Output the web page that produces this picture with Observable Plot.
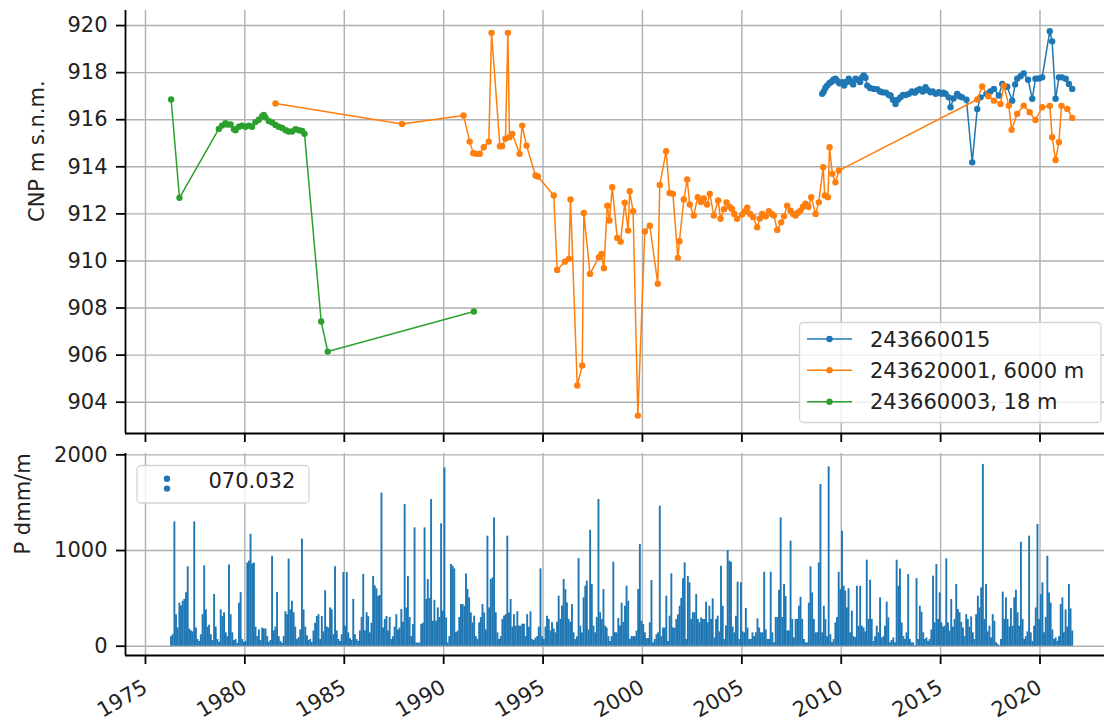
<!DOCTYPE html>
<html><head><meta charset="utf-8">
<script src="https://cdn.jsdelivr.net/npm/d3@7"></script>
<script src="https://cdn.jsdelivr.net/npm/@observablehq/plot@0.6"></script>
<style>
body{margin:0;background:#fff;font-family:"DejaVu Sans",sans-serif;}
#wrap{position:relative;width:1104px;height:721px;overflow:hidden;background:#fff;}
#wrap > svg, #wrap > figure{position:absolute;left:0;margin:0;}
</style></head><body><div id="wrap"></div>
<script>
// ---------- data ----------
const seriesNames = ["243660015", "243620001, 6000 m", "243660003, 18 m"];
const seriesColors = ["#1f77b4", "#ff7f0e", "#2ca02c"];
const precipName = "070.032";

// [decimal year, level m s.n.m.]
const s243660015 = [
[2009.04,917.1],[2009.12,917.2],[2009.2,917.35],[2009.29,917.45],[2009.4,917.55],[2009.5,917.6],[2009.6,917.7],[2009.71,917.74],[2009.8,917.65],[2009.9,917.55],
[2010.05,917.59],[2010.15,917.45],[2010.25,917.6],[2010.38,917.74],[2010.5,917.6],[2010.6,917.5],[2010.72,917.74],[2010.82,917.7],[2010.95,917.6],[2011.05,917.8],
[2011.13,917.88],[2011.22,917.78],[2011.31,917.45],[2011.45,917.35],[2011.64,917.31],[2011.8,917.3],[2011.95,917.2],[2012.06,917.17],[2012.25,917.15],[2012.4,917.05],
[2012.48,917.03],[2012.6,916.85],[2012.73,916.67],[2012.85,916.85],[2012.98,916.95],[2013.1,917.05],[2013.25,917.05],[2013.4,917.1],[2013.55,917.2],[2013.7,917.15],
[2013.82,917.24],[2013.95,917.3],[2014.1,917.2],[2014.24,917.38],[2014.35,917.25],[2014.49,917.17],[2014.6,917.2],[2014.75,917.1],[2014.91,917.17],[2015.05,917.1],
[2015.15,917.15],[2015.25,917.1],[2015.41,916.95],[2015.5,916.53],[2015.65,916.9],[2015.83,917.1],[2015.95,917.0],[2016.08,916.95],[2016.3,916.85],[2016.59,914.19],
[2016.84,916.46],[2017.01,916.95],[2017.3,917.1],[2017.5,917.2],[2017.68,917.31],[2017.93,917.03],[2018.1,917.52],[2018.35,917.4],[2018.6,916.81],[2018.75,917.5],
[2018.85,917.74],[2019.02,917.85],[2019.18,917.97],[2019.4,917.7],[2019.61,916.89],[2019.77,917.74],[2019.95,917.75],[2020.11,917.8],[2020.49,919.76],[2020.61,919.33],
[2020.78,916.89],[2020.95,917.8],[2021.1,917.8],[2021.29,917.74],[2021.45,917.52],[2021.62,917.31]
];
const s243620001 = [
[1981.54,916.69],[1987.91,915.82],[1991.0,916.18],[1991.31,915.07],[1991.49,914.58],[1991.65,914.55],[1991.82,914.55],[1992.02,914.83],[1992.27,915.07],[1992.41,919.69],
[1992.83,914.87],[1992.94,914.87],[1993.11,915.19],[1993.23,919.69],[1993.31,915.26],[1993.45,915.4],[1993.82,914.55],[1993.95,915.75],[1994.17,914.9],[1994.62,913.63],
[1994.74,913.59],[1995.54,912.78],[1995.71,909.62],[1996.1,909.97],[1996.3,910.09],[1996.38,912.61],[1996.72,904.71],[1996.97,905.56],[1997.05,912.04],[1997.36,909.45],
[1997.81,910.16],[1997.94,910.3],[1998.06,909.69],[1998.23,912.35],[1998.34,911.72],[1998.48,913.13],[1998.73,910.98],[1998.9,910.82],[1999.11,912.47],[1999.28,911.29],
[1999.36,912.96],[1999.53,912.11],[1999.77,903.43],[2000.12,911.25],[2000.37,911.5],[2000.77,909.03],[2000.87,913.23],[2001.19,914.66],[2001.36,912.89],[2001.53,912.85],
[2001.78,910.13],[2001.86,910.84],[2002.08,912.61],[2002.25,913.46],[2002.38,912.4],[2002.58,911.93],[2002.78,912.71],[2002.95,912.5],[2003.09,912.66],[2003.25,912.4],
[2003.39,912.85],[2003.59,911.93],[2003.81,912.57],[2003.93,911.79],[2004.1,912.2],[2004.23,912.49],[2004.38,912.3],[2004.51,912.21],[2004.62,912.0],[2004.76,911.79],
[2005.01,911.97],[2005.15,912.1],[2005.27,912.26],[2005.42,912.0],[2005.57,911.86],[2005.77,911.43],[2005.9,911.8],[2006.02,912.0],[2006.2,911.9],[2006.36,912.11],
[2006.5,912.0],[2006.61,911.93],[2006.78,911.32],[2006.98,911.64],[2007.12,911.9],[2007.28,912.35],[2007.45,912.14],[2007.58,912.0],[2007.7,911.93],[2007.82,912.05],
[2007.95,912.14],[2008.08,912.3],[2008.2,912.43],[2008.35,912.3],[2008.49,912.71],[2008.71,912.0],[2008.87,912.49],[2009.09,913.98],[2009.17,912.78],[2009.33,912.71],
[2009.41,914.83],[2009.55,913.7],[2009.71,913.34],[2009.88,913.84],[2016.84,916.86],[2017.09,917.41],[2017.4,917.0],[2017.68,916.81],[2018.01,916.67],[2018.18,917.45],
[2018.43,916.6],[2018.57,915.57],[2018.85,916.25],[2019.18,916.6],[2019.48,916.32],[2019.77,915.99],[2020.11,916.53],[2020.49,916.59],[2020.61,915.26],[2020.78,914.29],
[2020.95,915.04],[2021.08,916.59],[2021.37,916.46],[2021.62,916.08]
];
const s243660003 = [
[1976.29,916.86],[1976.71,912.68],[1978.69,915.61],[1978.85,915.75],[1979.02,915.85],[1979.11,915.8],[1979.28,915.8],[1979.45,915.6],[1979.53,915.55],[1979.7,915.7],
[1979.86,915.75],[1980.03,915.7],[1980.2,915.75],[1980.36,915.7],[1980.53,915.9],[1980.7,916.0],[1980.87,916.15],[1980.95,916.2],[1981.03,916.1],[1981.2,915.95],
[1981.37,915.88],[1981.54,915.78],[1981.7,915.7],[1981.88,915.65],[1982.05,915.55],[1982.2,915.5],[1982.38,915.5],[1982.55,915.6],[1982.72,915.55],[1982.88,915.52],
[1983.0,915.4],[1983.84,907.43],[1984.17,906.15],[1991.52,907.85]
];

// monthly precipitation (dmm/m), first month April 1976
const precipFirstMonth = "1976-04";
const precipValues = [
100,120,1300,330,190,450,420,470,490,560,
830,180,160,150,1300,190,70,50,120,330,
840,380,200,220,120,60,540,200,70,40,
380,310,350,140,100,850,330,140,60,70,
30,450,560,70,40,50,870,890,1170,860,
870,200,100,170,60,190,180,180,100,40,
60,940,160,200,560,100,50,30,100,360,
330,910,380,470,350,200,70,90,170,1120,
380,200,110,60,70,40,160,240,310,330,
70,310,150,580,200,190,400,380,120,830,
160,70,50,120,770,210,770,140,80,60,
490,120,70,50,160,300,750,160,350,310,
140,240,730,630,600,520,530,1600,190,280,
310,160,300,70,100,200,
330,170,190,383,250,1480,400,730,300,100,
226,1237,35,30,35,226,240,1237,488,697,
500,1533,261,480,261,400,300,1280,366,1864,
296,35,100,854,836,808,140,157,300,435,
435,418,756,592,505,348,244,314,100,70,
244,300,435,348,170,1150,400,697,714,1341,
350,140,70,100,280,314,330,1150,348,488,
200,330,210,360,210,210,230,230,100,330,
200,360,70,60,85,100,200,808,100,70,
200,314,280,160,244,180,140,250,523,280,
420,697,592,453,280,250,435,140,70,100,
916,210,140,505,627,680,170,1212,645,210,
140,300,1533,350,280,592,210,190,100,50,
100,878,140,140,290,210,450,250,418,
627,470,70,100,100,100,157,592,1063,261,
226,140,80,80,244,686,35,70,120,140,
1463,100,190,190,523,50,314,756,190,190,
280,330,418,500,704,871,70,730,662,280,
350,350,540,280,244,296,280,280,460,244,
418,280,495,87,280,314,150,836,418,70,
210,1000,888,878,200,140,314,669,70,662,
150,140,394,190,70,70,140,100,140,286,
190,140,140,773,170,70,70,773,140,35,
300,300,585,1341,300,645,520,160,160,1097,
280,87,280,280,418,512,280,70,35,35,
450,830,557,280,140,140,871,1690,140,418,
280,100,1874,120,35,70,244,300,773,592,
1202,627,575,400,600,140,
366,100,90,627,209,627,209,190,150,899,
280,690,280,50,100,209,140,505,87,100,
209,460,296,35,60,87,35,899,627,808,
244,100,70,140,749,70,35,35,5,707,
70,418,355,140,70,87,50,70,170,732,
244,854,280,557,244,200,209,913,244,157,
488,200,280,645,383,350,250,190,100,330,
280,200,307,140,70,330,523,400,610,1900,
280,645,150,209,87,330,260,35,20,5,
70,565,280,505,280,200,394,209,505,585,
350,209,1087,280,70,100,150,1150,140,50,
209,400,1272,280,540,662,140,300,940,557,
450,170,70,87,50,100,435,505,140,380,
200,645,390,160
];

const levelTicks = [904, 906, 908, 910, 912, 914, 916, 918, 920];
const precipTicks = [0, 1000, 2000];
const tickYears = [1975, 1980, 1985, 1990, 1995, 2000, 2005, 2010, 2015, 2020];

// ---------- build tables ----------
function decToDate(y) {
  const yr = Math.floor(y);
  const a = Date.UTC(yr, 0, 1), b = Date.UTC(yr + 1, 0, 1);
  return new Date(a + (y - yr) * (b - a));
}
const levelSeries = [s243660015, s243620001, s243660003].map((s, i) =>
  s.map(([t, v]) => ({date: decToDate(t), level: v, series: seriesNames[i]})));
const p0 = d3.utcParse("%Y-%m")(precipFirstMonth);
const precip = precipValues.map((v, i) => ({date: d3.utcDay.offset(d3.utcMonth.offset(p0, i), 14), value: v}));
const yearTicks = tickYears.map(y => new Date(Date.UTC(y, 0, 1)));

const xDomain = [new Date(Date.UTC(1973, 11, 30)), new Date(Date.UTC(2023, 2, 31))];
const yDomTop = [902.67, 920.64];
const yDomBot = [-97, 2014];

const baseStyle = {fontFamily: "DejaVu Sans, sans-serif", fontSize: "21px", color: "#222", background: "transparent", overflow: "visible"};
const gridStyle = {stroke: "#b0b0b0", strokeOpacity: 1, strokeWidth: 1.4};

const seriesMarks = [];
levelSeries.forEach((d, i) => {
  seriesMarks.push(Plot.line(d, {x: "date", y: "level", stroke: seriesColors[i], strokeWidth: 1.5}));
  seriesMarks.push(Plot.dot(d, {x: "date", y: "level", fill: seriesColors[i], r: 3.2, stroke: "none"}));
});

const topPlot = Plot.plot({
  width: 1104, height: 443,
  marginLeft: 125, marginRight: 0, marginTop: 10, marginBottom: 10,
  style: baseStyle,
  x: {type: "utc", domain: xDomain},
  y: {domain: yDomTop},
  marks: [
    Plot.gridX({ticks: yearTicks, ...gridStyle}),
    Plot.gridY({ticks: levelTicks, ...gridStyle}),
    ...seriesMarks,
    Plot.ruleX([xDomain[0]], {stroke: "black", strokeWidth: 1.8}),
    Plot.ruleY([yDomTop[0]], {stroke: "black", strokeWidth: 1.8}),
    Plot.axisY({ticks: levelTicks, tickSize: 9, tickPadding: 9, label: null, stroke: "black", strokeWidth: 1.8}),
    Plot.axisX({ticks: yearTicks, tickSize: 9, tickFormat: () => null, label: null, stroke: "black", strokeWidth: 1.8}),
    Plot.text(["CNP m s.n.m."], {frameAnchor: "left", dx: -88, rotate: -90, fontSize: 21, fill: "#222"})
  ]
});

const botPlot = Plot.plot({
  width: 1104, height: 278,
  marginLeft: 125, marginRight: 0, marginTop: 10, marginBottom: 66,
  style: baseStyle,
  x: {type: "utc", domain: xDomain},
  y: {domain: yDomBot},
  marks: [
    Plot.gridX({ticks: yearTicks, ...gridStyle}),
    Plot.gridY({ticks: precipTicks, ...gridStyle}),
    Plot.ruleX(precip, {x: "date", y1: 0, y2: "value", stroke: "#1f77b4", strokeWidth: 1.9}),
    Plot.ruleX([xDomain[0]], {stroke: "black", strokeWidth: 1.8}),
    Plot.ruleY([yDomBot[0]], {stroke: "black", strokeWidth: 1.8}),
    Plot.axisY({ticks: precipTicks, tickSize: 9, tickPadding: 9, tickFormat: d3.format("d"), label: null, stroke: "black", strokeWidth: 1.8}),
    Plot.axisX({ticks: yearTicks, tickSize: 9, tickPadding: 21, tickRotate: -30, tickFormat: d3.utcFormat("%Y"), label: null, stroke: "black", strokeWidth: 1.8}),
    Plot.text(["P dmm/m"], {frameAnchor: "left", dx: -102, rotate: -90, fontSize: 21, fill: "#222"})
  ]
});

const wrap = document.getElementById("wrap");
topPlot.style.top = "0px";
botPlot.style.top = "443px";
wrap.appendChild(topPlot);
wrap.appendChild(botPlot);

// ---------- legends ----------
const NS = "http://www.w3.org/2000/svg";
function el(tag, attrs, parent) {
  const e = document.createElementNS(NS, tag);
  for (const k in attrs) e.setAttribute(k, attrs[k]);
  if (parent) parent.appendChild(e);
  return e;
}
const lg1 = el("svg", {width: 1104, height: 721, style: "position:absolute;left:0;top:0;pointer-events:none;font-family:'DejaVu Sans',sans-serif;font-size:21px"}, wrap);
el("rect", {x: 799.5, y: 322.5, width: 301.5, height: 100, rx: 4, fill: "white", "fill-opacity": 0.8, stroke: "#d4d4d4", "stroke-width": 1.3}, lg1);
const rowsY = [339, 370.3, 401.7];
seriesNames.forEach((name, i) => {
  el("line", {x1: 807, x2: 852, y1: rowsY[i], y2: rowsY[i], stroke: seriesColors[i], "stroke-width": 1.5}, lg1);
  el("circle", {cx: 829.5, cy: rowsY[i], r: 3.2, fill: seriesColors[i]}, lg1);
  const t = el("text", {x: 870, y: rowsY[i] + 7.6, fill: "#222"}, lg1);
  t.textContent = name;
});
el("rect", {x: 137, y: 465.5, width: 172, height: 37.5, rx: 4, fill: "white", "fill-opacity": 0.8, stroke: "#d4d4d4", "stroke-width": 1.3}, lg1);
el("circle", {cx: 167, cy: 478.8, r: 3.2, fill: seriesColors[0]}, lg1);
el("circle", {cx: 167, cy: 488.6, r: 3.2, fill: seriesColors[0]}, lg1);
const pt = el("text", {x: 208.5, y: 488.3, fill: "#222"}, lg1);
pt.textContent = precipName;
</script></body></html>
